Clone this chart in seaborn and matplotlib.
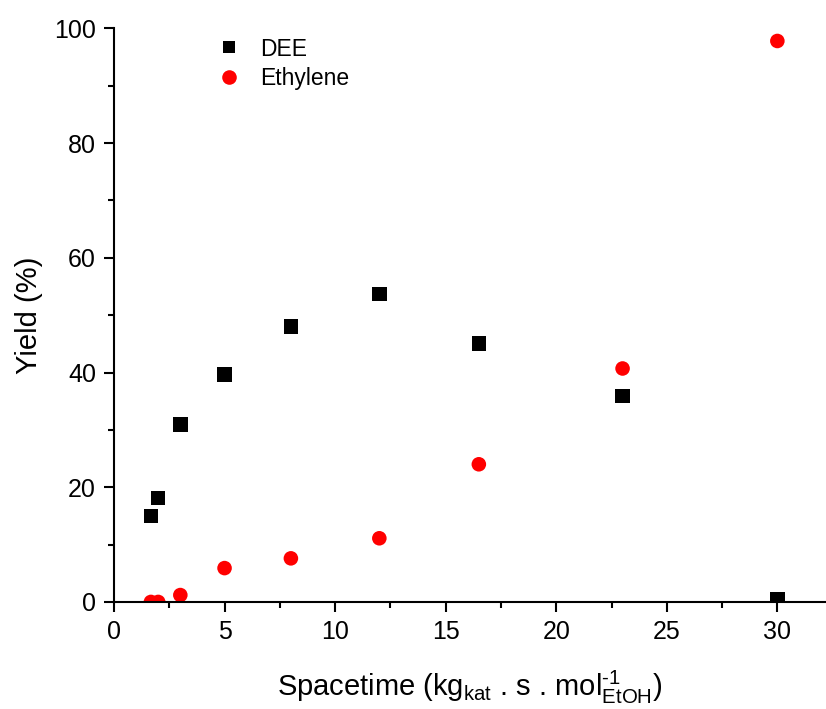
import matplotlib
matplotlib.use("Agg")
import matplotlib.pyplot as plt
import seaborn as sns
import pandas as pd

# Yield of diethyl ether (DEE) and ethylene versus spacetime
spacetime = [1.67, 2.0, 3.0, 5.0, 8.0, 12.0, 16.5, 23.0, 30.0]
yield_dee = [15.0, 18.1, 30.9, 39.7, 48.0, 53.7, 45.1, 35.9, 0.5]
yield_ethylene = [0.0, 0.0, 1.2, 5.9, 7.6, 11.1, 24.0, 40.7, 97.8]
series_names = ["DEE", "Ethylene"]

df = pd.DataFrame({
    "Spacetime": spacetime * 2,
    "Yield": yield_dee + yield_ethylene,
    "Product": [series_names[0]] * len(spacetime) + [series_names[1]] * len(spacetime),
})

sns.set_style("ticks")
plt.rcParams["font.family"] = ["Liberation Sans", "DejaVu Sans"]
plt.rcParams["mathtext.fontset"] = "custom"
plt.rcParams["mathtext.rm"] = "Liberation Sans"
plt.rcParams["mathtext.it"] = "Liberation Sans:italic"
plt.rcParams["text.color"] = "black"
plt.rcParams["axes.labelcolor"] = "black"

fig = plt.figure(figsize=(8.26, 7.09), dpi=100)
ax = fig.add_axes([0.138, 0.151, 0.862, 0.809])

sns.scatterplot(
    data=df, x="Spacetime", y="Yield", hue="Product", style="Product",
    palette={"DEE": "black", "Ethylene": "#ff0000"},
    markers={"DEE": "s", "Ethylene": "o"},
    s=130, linewidth=0, ax=ax, legend=True,
)
# Larger circles than squares
for coll, size in zip(ax.collections, [110, 170]):
    coll.set_sizes([size])

ax.set_xlim(0, 32.2)
ax.set_ylim(0, 100)
ax.set_xticks([0, 5, 10, 15, 20, 25, 30])
ax.set_xticks([2.5, 7.5, 12.5, 17.5, 22.5, 27.5], minor=True)
ax.set_yticks([0, 20, 40, 60, 80, 100])
ax.set_yticks([10, 30, 50, 70, 90], minor=True)

for side in ["top", "right"]:
    ax.spines[side].set_visible(False)
for side in ["left", "bottom"]:
    ax.spines[side].set_linewidth(1.5)
    ax.spines[side].set_color("black")

ax.tick_params(which="major", length=7, width=1.5, labelsize=18, colors="black", pad=6)
ax.tick_params(which="minor", length=4, width=1.5, colors="black")

ax.set_xlabel(r"Spacetime (kg$_{\mathrm{kat}}$ . s . mol$^{\text{-1}}_{\mathrm{EtOH}}$)",
              fontsize=21, labelpad=18)
ax.set_ylabel("Yield (%)", fontsize=21, labelpad=8)

handles, labels = ax.get_legend_handles_labels()
leg = ax.legend(handles, labels, loc="upper left", bbox_to_anchor=(0.1, 1.02),
                frameon=False, fontsize=16.5, handletextpad=0.35,
                labelspacing=0.3)
for h, ms in zip(leg.legend_handles, [9, 10.5]):
    h.set_markersize(ms)

fig.savefig("out.png", dpi=100)
